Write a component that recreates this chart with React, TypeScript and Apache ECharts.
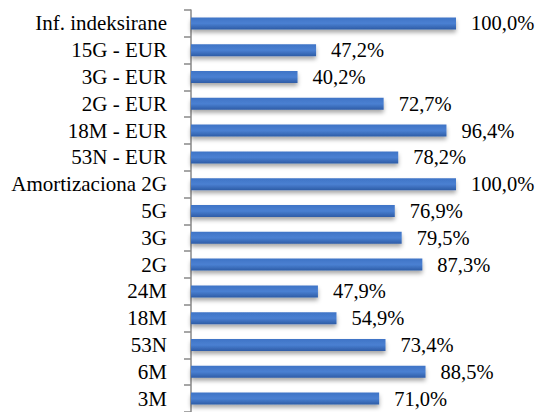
import React, { useEffect, useRef } from "react";
import * as echarts from "echarts";

const categories = [
  "Inf. indeksirane",
  "15G - EUR",
  "3G - EUR",
  "2G - EUR",
  "18M - EUR",
  "53N - EUR",
  "Amortizaciona 2G",
  "5G",
  "3G",
  "2G",
  "24M",
  "18M",
  "53N",
  "6M",
  "3M",
];
const values = [100.0, 47.2, 40.2, 72.7, 96.4, 78.2, 100.0, 76.9, 79.5, 87.3, 47.9, 54.9, 73.4, 88.5, 71.0];

const FONT = "Times New Roman, Liberation Serif, serif";

export default function App() {
  const ref = useRef<HTMLDivElement>(null);
  useEffect(() => {
    document.body.style.margin = "0";
    const chart = echarts.init(ref.current!, null, { renderer: "svg" });
    chart.setOption({
      animation: false,
      textStyle: { fontFamily: FONT },
      grid: { left: 191, right: 81, top: 10, height: 405, containLabel: false },
      xAxis: {
        type: "value",
        min: 0,
        max: 100,
        show: false,
      },
      yAxis: {
        type: "category",
        data: categories,
        inverse: true,
        axisLine: { show: true, lineStyle: { color: "#888888", width: 1.5 } },
        axisTick: { show: true, interval: 0, length: 7, lineStyle: { color: "#888888", width: 1.5 } },
        axisLabel: { interval: 0, color: "#000", fontFamily: FONT, fontSize: 21, margin: 24 },
        splitLine: { show: false },
      },
      series: [
        {
          type: "bar",
          data: values,
          barWidth: 12,
          itemStyle: {
            color: new echarts.graphic.LinearGradient(0, 0, 0, 1, [
              { offset: 0, color: "#3f74c6" },
              { offset: 0.5, color: "#4a80d2" },
              { offset: 1, color: "#2e5ca6" },
            ]),
            shadowColor: "rgba(0,0,0,0.35)",
            shadowBlur: 4,
            shadowOffsetY: 3,
          },
          label: {
            show: true,
            position: "right",
            distance: 15,
            color: "#000",
            fontFamily: FONT,
            fontSize: 20.5,
            formatter: (p: any) => p.value.toFixed(1).replace(".", ",") + "%",
          },
        },
      ],
    });
    return () => chart.dispose();
  }, []);
  return <div ref={ref} style={{ width: 537, height: 412 }} />;
}
